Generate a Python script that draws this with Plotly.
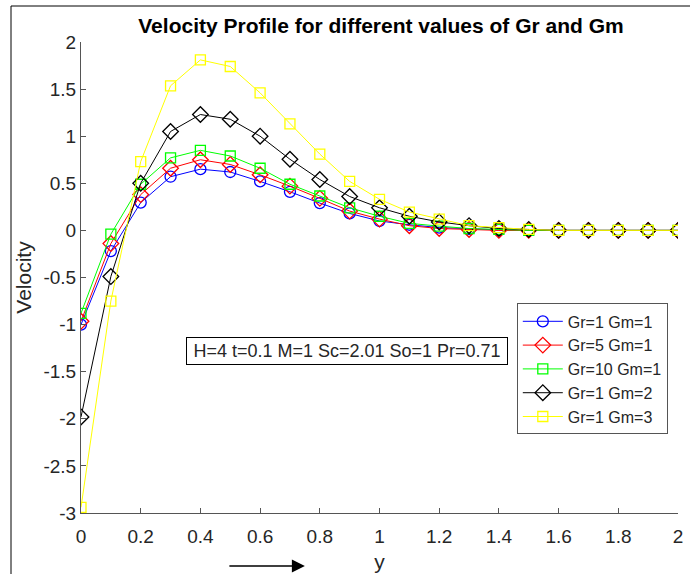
import plotly.graph_objects as go

y_pos = [0.0, 0.1, 0.2, 0.3, 0.4, 0.5, 0.6, 0.7, 0.8, 0.9, 1.0,
         1.1, 1.2, 1.3, 1.4, 1.5, 1.6, 1.7, 1.8, 1.9, 2.0]

vel_gr1_gm1 = [-1.00, -0.22, 0.295, 0.57, 0.65, 0.62, 0.52, 0.41, 0.29, 0.18, 0.10,
               0.06, 0.03, 0.015, 0.005, 0.0, 0.0, 0.0, 0.0, 0.0, 0.0]
vel_gr5_gm1 = [-0.965, -0.14, 0.38, 0.66, 0.75, 0.70, 0.59, 0.47, 0.34, 0.205, 0.12,
               0.05, 0.02, 0.01, 0.0, 0.0, 0.0, 0.0, 0.0, 0.0, 0.0]
vel_gr10_gm1 = [-0.88, -0.04, 0.49, 0.77, 0.85, 0.79, 0.66, 0.49, 0.365, 0.24, 0.15,
                0.075, 0.045, 0.02, 0.01, 0.0, 0.0, 0.0, 0.0, 0.0, 0.0]
vel_gr1_gm2 = [-1.98, -0.49, 0.50, 1.05, 1.23, 1.18, 1.00, 0.755, 0.54, 0.36, 0.24,
               0.15, 0.09, 0.05, 0.02, 0.01, 0.0, 0.0, 0.0, 0.0, 0.0]
vel_gr1_gm3 = [-2.94, -0.75, 0.73, 1.535, 1.81, 1.74, 1.46, 1.13, 0.81, 0.52, 0.33,
               0.195, 0.12, 0.05, 0.03, 0.01, 0.0, 0.0, 0.0, 0.0, 0.0]

x_tick_vals = [0, 0.2, 0.4, 0.6, 0.8, 1.0, 1.2, 1.4, 1.6, 1.8, 2.0]
x_tick_text = ["0", "0.2", "0.4", "0.6", "0.8", "1", "1.2", "1.4", "1.6", "1.8", "2"]
y_tick_vals = [2, 1.5, 1, 0.5, 0, -0.5, -1, -1.5, -2, -2.5, -3]
y_tick_text = ["2", "1.5", "1", "0.5", "0", "-0.5", "-1", "-1.5", "-2", "-2.5", "-3"]

series = [
    ("Gr=1 Gm=1", vel_gr1_gm1, "#0000FF", "circle-open", 11),
    ("Gr=5 Gm=1", vel_gr5_gm1, "#FF0000", "diamond-open", 12),
    ("Gr=10 Gm=1", vel_gr10_gm1, "#00FF00", "square-open", 10),
    ("Gr=1 Gm=2", vel_gr1_gm2, "#000000", "diamond-open", 12),
    ("Gr=1 Gm=3", vel_gr1_gm3, "#FFFF00", "square-open", 10),
]

fig = go.Figure()
for name, vals, color, sym, size in series:
    fig.add_trace(go.Scatter(
        x=y_pos, y=vals, name=name, mode="lines+markers",
        line=dict(color=color, width=1),
        marker=dict(symbol=sym, size=size, color=color, line=dict(color=color, width=1.3)),
    ))

font_family = "Liberation Sans, Arial, sans-serif"
axis_color = "#555555"
text_color = "#262626"

fig.update_layout(
    width=690, height=574,
    margin=dict(l=81, r=12, t=42, b=61),
    paper_bgcolor="white", plot_bgcolor="white",
    font=dict(family=font_family, size=19, color=text_color),
    title=dict(text="<b>Velocity Profile for different values of Gr and Gm</b>",
               x=(381 / 690), xanchor="center", y=1 - 26 / 574, yanchor="middle",
               font=dict(size=21, color="#000000")),
    showlegend=True,
    legend=dict(x=0.73, y=0.445, xanchor="left", yanchor="top",
                bgcolor="white", bordercolor=axis_color, borderwidth=1,
                font=dict(size=16, color=text_color), tracegroupgap=0,
                itemwidth=40),
    xaxis=dict(range=[0, 2], tickvals=x_tick_vals, ticktext=x_tick_text,
               ticks="inside", ticklen=5, ticklabelstandoff=6, automargin=False,
               tickcolor=axis_color, showline=True, linecolor=axis_color, linewidth=1,
               showgrid=False, zeroline=False, mirror=False,
               tickfont=dict(size=19),
               title=dict(text="y", font=dict(size=21, color=text_color), standoff=8)),
    yaxis=dict(range=[-3, 2], tickvals=y_tick_vals, ticktext=y_tick_text,
               ticks="inside", ticklen=5, automargin=False,
               tickcolor=axis_color, showline=True, linecolor=axis_color, linewidth=1,
               showgrid=False, zeroline=False, mirror=False,
               tickfont=dict(size=19),
               title=dict(text="Velocity", font=dict(size=21, color=text_color), standoff=6)),
)

fig.add_annotation(
    x=((185 + 509) / 2 - 81) / 597, y=0.315, xref="paper", yref="paper",
    text="H=4 t=0.1 M=1 Sc=2.01 So=1 Pr=0.71", showarrow=False,
    font=dict(size=18, color=text_color), bordercolor="#000000", borderwidth=1,
    borderpad=2, bgcolor="white", width=316, height=22, align="center",
)

fig.add_annotation(
    x=0.375, y=-0.1125, ax=-77, ay=0,
    xref="paper", yref="paper", axref="pixel", ayref="pixel",
    text="", showarrow=True, arrowhead=2, arrowsize=2, arrowwidth=1.3,
    arrowcolor="#000000",
)

fig.add_shape(type="line", xref="paper", yref="paper",
              x0=(11 - 81) / 597, x1=(690 - 81) / 597, y0=(513 - 6) / 471, y1=(513 - 6) / 471,
              line=dict(color="#000000", width=1))
fig.add_shape(type="line", xref="paper", yref="paper",
              x0=(11 - 81) / 597, x1=(11 - 81) / 597, y0=(513 - 6) / 471, y1=(513 - 574) / 471,
              line=dict(color="#000000", width=1))

fig.write_html("out.html")
